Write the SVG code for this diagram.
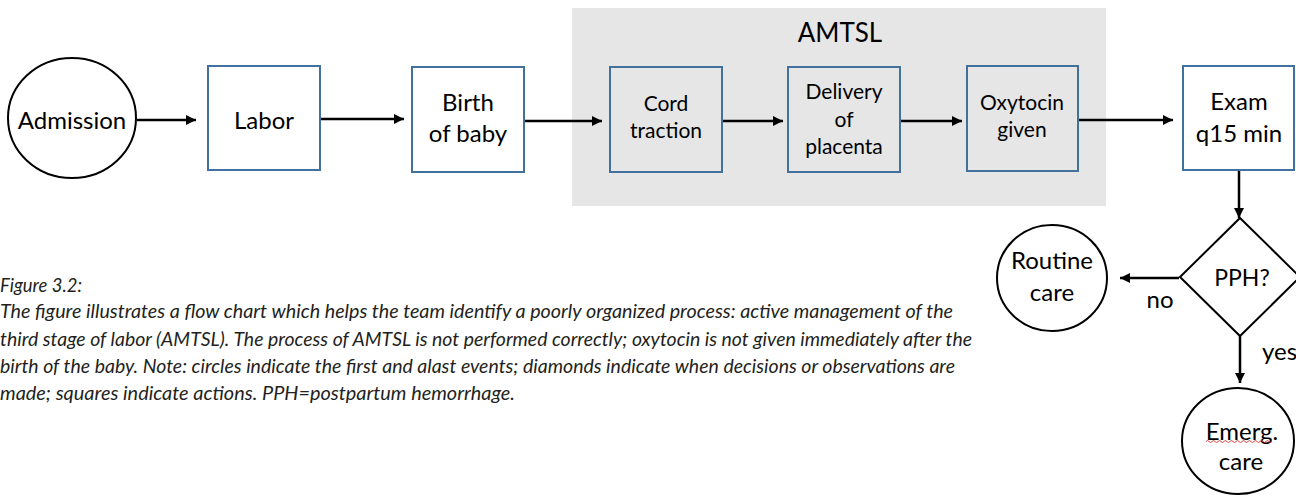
<svg xmlns="http://www.w3.org/2000/svg" width="1296" height="495" viewBox="0 0 1296 495">
  <style>
    .box { fill: #ffffff; stroke: #41719c; stroke-width: 2; }
    .box-in { fill: #e6e6e6; stroke: #41719c; stroke-width: 2; }
    .term { fill: #ffffff; stroke: #000000; stroke-width: 2; }
    .lbl { font-family: Lato, "Liberation Sans", sans-serif; fill: #000000; text-anchor: middle; }
    .link { stroke: #000000; stroke-width: 2.5; fill: none; marker-end: url(#head); }
    .cap { font-family: Lato, "Open Sans", sans-serif; font-style: italic; font-size: 20px; fill: #231f20; }
  </style>
  <defs>
    <marker id="head" viewBox="0 0 10 10" refX="10" refY="5" markerWidth="4.6" markerHeight="4" markerUnits="strokeWidth" orient="auto">
      <path d="M0,0 L10,5 L0,10 z" fill="#000000"/>
    </marker>
  </defs>
  <rect width="1296" height="495" fill="#ffffff"/>

  <!-- AMTSL group background -->
  <g id="amtsl">
    <rect x="572" y="8" width="534" height="198" fill="#e6e6e6"/>
    <text class="lbl" x="840" y="42" font-size="26">AMTSL</text>
  </g>

  <!-- connectors -->
  <g id="connectors">
    <line class="link" x1="137" y1="120" x2="196" y2="120"/>
    <line class="link" x1="320" y1="119" x2="404" y2="119"/>
    <line class="link" x1="524" y1="121" x2="602" y2="121"/>
    <line class="link" x1="722" y1="121" x2="783" y2="121"/>
    <line class="link" x1="900" y1="121" x2="962" y2="121"/>
    <line class="link" x1="1078" y1="120" x2="1173" y2="120"/>
    <line class="link" x1="1239" y1="170" x2="1239" y2="218"/>
    <line class="link" x1="1179" y1="278" x2="1120" y2="278"/>
    <line class="link" x1="1240" y1="336" x2="1240" y2="383"/>
    <text class="lbl" x="1160" y="308" font-size="24">no</text>
    <text class="lbl" x="1262" y="360" font-size="24" style="text-anchor:start">yes</text>
  </g>

  <g id="admission">
    <ellipse class="term" cx="72" cy="118" rx="64" ry="60"/>
    <text class="lbl" x="72" y="129" font-size="24">Admission</text>
  </g>

  <g id="labor">
    <rect class="box" x="208" y="66" width="112" height="104"/>
    <text class="lbl" x="264" y="129" font-size="24">Labor</text>
  </g>

  <g id="birth">
    <rect class="box" x="412" y="67" width="112" height="105"/>
    <text class="lbl" x="468" y="111" font-size="24">Birth</text>
    <text class="lbl" x="468" y="142" font-size="24">of baby</text>
  </g>

  <g id="cord">
    <rect class="box-in" x="610" y="67" width="112" height="105"/>
    <text class="lbl" x="666" y="111" font-size="21">Cord</text>
    <text class="lbl" x="666" y="138" font-size="21">traction</text>
  </g>

  <g id="placenta">
    <rect class="box-in" x="788" y="67" width="112" height="105"/>
    <text class="lbl" x="844" y="99" font-size="21">Delivery</text>
    <text class="lbl" x="844" y="127" font-size="21">of</text>
    <text class="lbl" x="844" y="154" font-size="21">placenta</text>
  </g>

  <g id="oxytocin">
    <rect class="box-in" x="967" y="66" width="111" height="105"/>
    <text class="lbl" x="1022" y="110" font-size="21">Oxytocin</text>
    <text class="lbl" x="1022" y="137" font-size="21">given</text>
  </g>

  <g id="exam">
    <rect class="box" x="1183" y="66" width="111" height="104"/>
    <text class="lbl" x="1239" y="110" font-size="24">Exam</text>
    <text class="lbl" x="1239" y="142" font-size="24">q15 min</text>
  </g>

  <g id="pph">
    <polygon class="term" points="1240,218 1300,277 1240,336 1180,277"/>
    <text class="lbl" x="1242" y="286" font-size="23">PPH?</text>
  </g>

  <g id="routine">
    <ellipse class="term" cx="1052" cy="278" rx="55" ry="53"/>
    <text class="lbl" x="1052" y="269" font-size="24">Routine</text>
    <text class="lbl" x="1052" y="301" font-size="24">care</text>
  </g>

  <g id="emergency">
    <ellipse class="term" cx="1238" cy="441" rx="56" ry="53"/>
    <text class="lbl" x="1242" y="440" font-size="24">Emerg.</text>
    <!-- spell-check squiggle under "Emerg." -->
    <path d="M1206,441.5 q1.5,-2 3,0 t3,0 t3,0 t3,0 t3,0 t3,0 t3,0 t3,0 t3,0 t3,0 t3,0 t3,0 t3,0 t3,0 t3,0 t3,0 t3,0 t3,0 t3,0 t3,0 t3,0 t3,0" fill="none" stroke="#e03030" stroke-width="0.9"/>
    <text class="lbl" x="1241" y="470" font-size="24">care</text>
  </g>

  <!-- caption -->
  <g id="caption">
    <text class="cap" x="0" y="292" textLength="82" lengthAdjust="spacingAndGlyphs">Figure 3.2:</text>
    <text class="cap" x="0" y="318" textLength="953" lengthAdjust="spacingAndGlyphs">The figure illustrates a flow chart which helps the team identify a poorly organized process: active management of the</text>
    <text class="cap" x="0" y="346" textLength="972" lengthAdjust="spacingAndGlyphs">third stage of labor (AMTSL). The process of AMTSL is not performed correctly; oxytocin is not given immediately after the</text>
    <text class="cap" x="0" y="373" textLength="955" lengthAdjust="spacingAndGlyphs">birth of the baby. Note: circles indicate the first and alast events; diamonds indicate when decisions or observations are</text>
    <text class="cap" x="0" y="400" textLength="515" lengthAdjust="spacingAndGlyphs">made; squares indicate actions. PPH=postpartum hemorrhage.</text>
  </g>
</svg>
